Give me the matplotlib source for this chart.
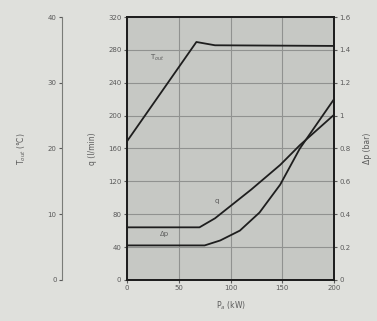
import numpy as np
import matplotlib
matplotlib.use("Agg")
import matplotlib.pyplot as plt

# power (kW) and curves
p_tout = [0, 67, 85, 200]
t_out = [21.1, 36.2, 35.7, 35.6]

p_q = [0, 70, 85, 120, 148, 167, 200]
q_vals = [64, 64, 75, 110, 140, 164, 201]

p_dp = [0, 75, 90, 109, 128, 148, 167, 200]
dp_vals = [0.21, 0.21, 0.24, 0.30, 0.41, 0.58, 0.80, 1.10]

x_ticks = [0, 50, 100, 150, 200]
q_ticks = [0, 40, 80, 120, 160, 200, 240, 280, 320]
dp_ticks = [0, 0.2, 0.4, 0.6, 0.8, 1.0, 1.2, 1.4, 1.6]
dp_labels = ["0", "0.2", "0.4", "0.6", "0.8", "1", "1.2", "1.4", "1.6"]
t_ticks = [0, 10, 20, 30, 40]

bg = "#dfe0dc"
inner = "#c6c8c4"
txt = "#5a5a5a"
ln = "#1e1e1e"

fig = plt.figure(figsize=(3.77, 3.21), dpi=100, facecolor=bg)
ax = fig.add_axes([0.337, 0.128, 0.549, 0.819])
ax.set_facecolor(inner)

ax.plot(p_q, q_vals, color=ln, lw=1.3)
ax.set_xlim(0, 200)
ax.set_ylim(0, 320)
ax.set_xticks(x_ticks)
ax.set_yticks(q_ticks)
ax.grid(True, color="#909290", lw=0.8)
ax.tick_params(labelsize=5, colors=txt, length=2, pad=2)
for s in ax.spines.values():
    s.set_color(ln)
    s.set_linewidth(1.3)
ax.set_xlabel("P$_a$ (kW)", fontsize=5.5, color=txt, labelpad=6)
ax.set_ylabel("q (l/min)", fontsize=5.5, color=txt, labelpad=8)

ax2 = ax.twinx()
ax2.plot(p_dp, dp_vals, color=ln, lw=1.3)
ax2.set_ylim(0, 1.6)
ax2.set_yticks(dp_ticks)
ax2.set_yticklabels(dp_labels)
ax2.tick_params(labelsize=5, colors=txt, length=2, pad=2)
ax2.set_ylabel("Δp (bar)", fontsize=5.5, color=txt, labelpad=9)
for s in ax2.spines.values():
    s.set_color(ln)
    s.set_linewidth(1.3)

ax3 = ax.twinx()
ax3.plot(p_tout, t_out, color=ln, lw=1.3)
ax3.set_ylim(0, 40)
ax3.set_yticks(t_ticks)
ax3.yaxis.set_ticks_position("left")
ax3.yaxis.set_label_position("left")
ax3.spines["left"].set_position(("axes", -0.314))
ax3.spines["left"].set_visible(True)
ax3.spines["left"].set_color("#7a7c78")
ax3.spines["left"].set_linewidth(0.8)
for side in ["right", "top", "bottom"]:
    ax3.spines[side].set_visible(False)
ax3.tick_params(labelsize=5, colors=txt, length=2, pad=2)
ax3.set_ylabel("T$_{out}$ (°C)", fontsize=5.5, color=txt, labelpad=14)

ax3.text(22, 33.5, "T$_{out}$", fontsize=5, color=txt)
ax.text(85, 94, "q", fontsize=5, color=txt)
ax2.text(32, 0.27, "Δp", fontsize=5, color=txt)

fig.savefig("out.png", dpi=100, facecolor=bg)
